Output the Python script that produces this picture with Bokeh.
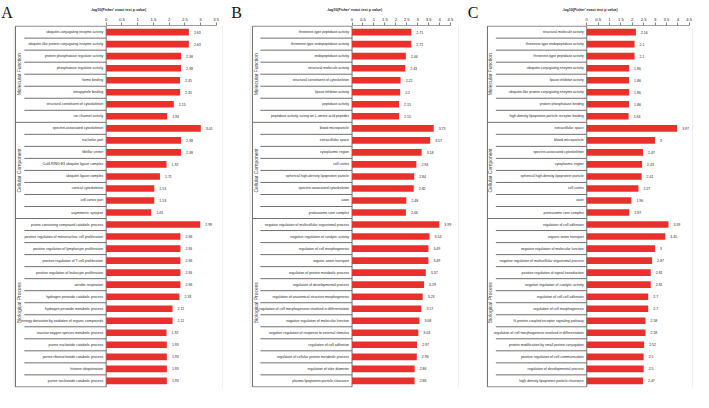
import math
from bokeh.plotting import figure
from bokeh.models import (Range1d, LinearAxis, FixedTicker, NumeralTickFormatter,
                          BoxAnnotation)
from bokeh.layouts import row
from bokeh.embed import file_html
from bokeh.resources import INLINE
from bokeh.core.properties import value

groups = ["Molecular Function", "Cellular Component", "Biological Process"]
axis_title = "-log10(Fisher' exact test p value)"
panel_letters = ["A", "B", "C"]

# ---------------- Panel A ----------------
a_mf_terms = ["ubiquitin-conjugating enzyme activity",
              "ubiquitin-like protein conjugating enzyme activity",
              "protein phosphatase regulator activity",
              "phosphatase regulator activity",
              "heme binding",
              "tetrapyrrole binding",
              "structural constituent of cytoskeleton",
              "ion channel activity"]
a_mf_vals = [2.63, 2.63, 2.38, 2.38, 2.35, 2.35, 2.15, 1.94]
a_cc_terms = ["spectrin-associated cytoskeleton",
              "nucleolar part",
              "fibrillar center",
              "Cul4-RING E3 ubiquitin ligase complex",
              "ubiquitin ligase complex",
              "cortical cytoskeleton",
              "cell cortex part",
              "asymmetric synapse"]
a_cc_vals = [3.01, 2.38, 2.38, 1.92, 1.71, 1.53, 1.53, 1.43]
a_bp_terms = ["purine-containing compound catabolic process",
              "positive regulation of mononuclear cell proliferation",
              "positive regulation of lymphocyte proliferation",
              "positive regulation of T cell proliferation",
              "positive regulation of leukocyte proliferation",
              "aerobic respiration",
              "hydrogen peroxide catabolic process",
              "hydrogen peroxide metabolic process",
              "energy derivation by oxidation of organic compounds",
              "reactive oxygen species metabolic process",
              "purine nucleotide catabolic process",
              "purine ribonucleotide catabolic process",
              "histone ubiquitination",
              "purine nucleoside catabolic process"]
a_bp_vals = [2.99, 2.36, 2.36, 2.36, 2.36, 2.36, 2.33, 2.11, 2.11, 1.92,
             1.93, 1.93, 1.93, 1.93]
a_ticks = [0, 0.5, 1, 1.5, 2, 2.5, 3, 3.5]

# ---------------- Panel B ----------------
b_mf_terms = ["threonine-type peptidase activity",
              "threonine-type endopeptidase activity",
              "endopeptidase activity",
              "structural molecule activity",
              "structural constituent of cytoskeleton",
              "lipase inhibitor activity",
              "peptidase activity",
              "peptidase activity, acting on L-amino acid peptides"]
b_mf_vals = [2.71, 2.71, 2.46, 2.43, 2.22, 2.2, 2.15, 2.15]
b_cc_terms = ["blood microparticle",
              "extracellular space",
              "cytoplasmic region",
              "cell cortex",
              "spherical high-density lipoprotein particle",
              "spectrin-associated cytoskeleton",
              "axon",
              "proteasome core complex"]
b_cc_vals = [3.73, 3.57, 3.18, 2.94, 2.84, 2.82, 2.48, 2.46]
b_bp_terms = ["negative regulation of multicellular organismal process",
              "negative regulation of catalytic activity",
              "regulation of cell morphogenesis",
              "organic anion transport",
              "regulation of protein metabolic process",
              "regulation of developmental process",
              "regulation of anatomical structure morphogenesis",
              "regulation of cell morphogenesis involved in differentiation",
              "negative regulation of molecular function",
              "negative regulation of response to external stimulus",
              "regulation of cell adhesion",
              "regulation of cellular protein metabolic process",
              "regulation of tube diameter",
              "plasma lipoprotein particle clearance"]
b_bp_vals = [3.99, 3.54, 3.49, 3.49, 3.37, 3.29, 3.23, 3.17, 3.08, 3.03,
             2.97, 2.96, 2.86, 2.86]
b_ticks = [0, 0.5, 1, 1.5, 2, 2.5, 3, 3.5, 4, 4.5]

# ---------------- Panel C ----------------
c_mf_terms = ["structural molecule activity",
              "threonine-type endopeptidase activity",
              "threonine-type peptidase activity",
              "ubiquitin-conjugating enzyme activity",
              "lipase inhibitor activity",
              "ubiquitin-like protein conjugating enzyme activity",
              "protein phosphatase binding",
              "high-density lipoprotein particle receptor binding"]
c_mf_vals = [2.16, 2.1, 2.1, 1.86, 1.86, 1.86, 1.86, 1.84]
c_cc_terms = ["extracellular space",
              "blood microparticle",
              "spectrin-associated cytoskeleton",
              "cytoplasmic region",
              "spherical high-density lipoprotein particle",
              "cell cortex",
              "axon",
              "proteasome core complex"]
c_cc_vals = [3.97, 3, 2.47, 2.43, 2.41, 2.27, 1.96, 1.87]
c_bp_terms = ["regulation of cell adhesion",
              "organic anion transport",
              "negative regulation of molecular function",
              "negative regulation of multicellular organismal process",
              "positive regulation of signal transduction",
              "negative regulation of catalytic activity",
              "regulation of cell-cell adhesion",
              "regulation of cell morphogenesis",
              "G-protein coupled receptor signaling pathway",
              "regulation of cell morphogenesis involved in differentiation",
              "protein modification by small protein conjugation",
              "positive regulation of cell communication",
              "regulation of developmental process",
              "high-density lipoprotein particle clearance"]
c_bp_vals = [3.59, 3.45, 3, 2.87, 2.81, 2.81, 2.7, 2.7, 2.58, 2.58, 2.52,
             2.5, 2.5, 2.47]
c_ticks = [0, 0.5, 1, 1.5, 2, 2.5, 3, 3.5, 4, 4.5]

FONT = "Liberation Sans"
BAR = "#e8302c"
LINE = "#707070"
FRAME = "#9a9a9a"
TXT = "#262626"
H = 392
TOP = 25
BOTTOM = 5


def letter_fig(ch, w, b0, b1):
    # the panel letter is carried by an otherwise empty top axis, so it sits in
    # the border band above the (row-aligned) plot frame
    p = figure(width=w, height=H, x_range=Range1d(0, w), y_range=Range1d(0, 1),
               title=None, output_backend="svg", toolbar_location=None,
               x_axis_location=None, y_axis_location=None,
               min_border_left=0, min_border_right=0, min_border_top=TOP,
               min_border_bottom=BOTTOM, outline_line_color=None,
               background_fill_color="white", border_fill_color="white")
    for g in p.grid:
        g.visible = False
    ax = LinearAxis(bounds=(b0, b1), ticker=FixedTicker(ticks=[]), axis_label=ch)
    ax.axis_line_color = None
    ax.major_tick_line_color = None
    ax.minor_tick_line_color = None
    ax.major_tick_out = 0
    ax.major_tick_in = 0
    ax.minor_tick_out = 0
    ax.minor_tick_in = 0
    ax.major_label_standoff = 0
    ax.major_label_text_font_size = "1px"
    ax.axis_label_standoff = 5
    ax.axis_label_text_font = "Liberation Serif"
    ax.axis_label_text_font_size = "16px"
    ax.axis_label_text_font_style = "normal"
    ax.axis_label_text_color = "#111111"
    p.add_layout(ax, "above")
    return p


def make_panel(term_groups, val_groups, ticks, fw, ref_w,
               zero_px, scale, table_px, sep_px, glab_px):
    terms = [t for g in term_groups for t in g]
    vals = [v for g in val_groups for v in g]
    n = len(terms)
    ys = list(range(n))
    x0 = -zero_px / scale
    x1 = (ref_w - zero_px) / scale
    tl = x0 + table_px / scale
    sl = x0 + sep_px / scale
    gl = x0 + glab_px / scale

    p = figure(width=fw, height=H, x_range=Range1d(x0, x1),
               y_range=Range1d(n - 0.5 + 0.05, -0.5 - 0.05),
               title=None, output_backend="svg", toolbar_location=None,
               x_axis_location=None, y_axis_location=None,
               min_border_left=0, min_border_right=0,
               min_border_top=TOP, min_border_bottom=BOTTOM,
               outline_line_color=None, background_fill_color="white",
               border_fill_color="white")
    for g in p.grid:
        g.visible = False

    ax = LinearAxis(bounds=(ticks[0], ticks[-1]), ticker=FixedTicker(ticks=ticks),
                    formatter=NumeralTickFormatter(format="0.[0]"),
                    axis_label=axis_title)
    ax.axis_line_color = "#a0a0a0"
    ax.major_tick_line_color = "#808080"
    ax.major_tick_out = 3
    ax.major_tick_in = 0
    ax.minor_tick_out = 0
    ax.minor_tick_in = 0
    ax.major_label_standoff = 2
    ax.major_label_text_font = FONT
    ax.major_label_text_font_size = "4.2px"
    ax.major_label_text_color = TXT
    ax.axis_label_standoff = 3
    ax.axis_label_text_font = FONT
    ax.axis_label_text_font_size = "3.6px"
    ax.axis_label_text_font_style = "bold"
    ax.axis_label_text_color = TXT
    p.add_layout(ax, "above")

    # panel frame
    p.add_layout(BoxAnnotation(left=0.5, right=fw - 0.5, top=0.5, bottom=H - 0.5,
                               left_units="canvas", right_units="canvas",
                               top_units="canvas", bottom_units="canvas",
                               fill_color=None, fill_alpha=0,
                               line_color=FRAME, line_width=1, level="overlay"))

    # table lines
    sizes = [len(g) for g in term_groups]
    bounds = []
    k = 0
    for s in sizes[:-1]:
        k += s
        bounds.append(k - 0.5)
    inner = [i + 0.5 for i in range(n - 1) if (i + 0.5) not in bounds]
    p.segment(x0=[sl] * len(inner), x1=[0] * len(inner), y0=inner, y1=inner,
              line_color=LINE, line_width=1)
    outer = [-0.5] + bounds + [n - 0.5]
    p.segment(x0=[tl] * len(outer), x1=[0] * len(outer), y0=outer, y1=outer,
              line_color=LINE, line_width=1)
    p.segment(x0=[tl, 0], x1=[tl, 0], y0=[-0.5, -0.5], y1=[n - 0.5, n - 0.5],
              line_color=LINE, line_width=1)

    # bars
    p.hbar(y=ys, left=0, right=vals, height=0.55, fill_color=BAR, line_color=None)

    # category labels
    p.text(x=[0] * n, y=ys, text=terms, x_offset=-3, text_align="right",
           text_baseline="middle", text_font=value(FONT), text_font_size="3.5px",
           text_color=TXT)
    # value labels
    p.text(x=vals, y=ys, text=[f"{v:g}" for v in vals], x_offset=5,
           text_align="left", text_baseline="middle", text_font=value(FONT),
           text_font_size="3.5px", text_color=TXT)

    # group labels
    centers = []
    k = 0
    for s in sizes:
        centers.append(k + (s - 1) / 2)
        k += s
    p.text(x=[gl] * len(groups), y=centers, text=groups, angle=math.pi / 2,
           text_align="center", text_baseline="middle", text_font=value(FONT),
           text_font_size="5px", text_color="#404040")
    return p


la = letter_fig(panel_letters[0], 13, 0, 11)
pa = make_panel([a_mf_terms, a_cc_terms, a_bp_terms],
                [a_mf_vals, a_cc_vals, a_bp_vals], a_ticks, 210, 213, 94, 31.9, 2, 11, 5.5)
lb = letter_fig(panel_letters[1], 26, 4, 22)
pb = make_panel([b_mf_terms, b_cc_terms, b_bp_terms],
                [b_mf_vals, b_cc_vals, b_bp_vals], b_ticks, 210, 213, 104, 22.2, 3, 11, 6.5)
lc = letter_fig(panel_letters[2], 27, 4, 23)
pc = make_panel([c_mf_terms, c_cc_terms, c_bp_terms],
                [c_mf_vals, c_cc_vals, c_bp_vals], c_ticks, 207, 210, 101.7, 23.1, 1, 9.5, 4)

layout = row(la, pa, lb, pb, lc, pc, spacing=0)

open("out.html", "w").write(file_html(layout, INLINE))
